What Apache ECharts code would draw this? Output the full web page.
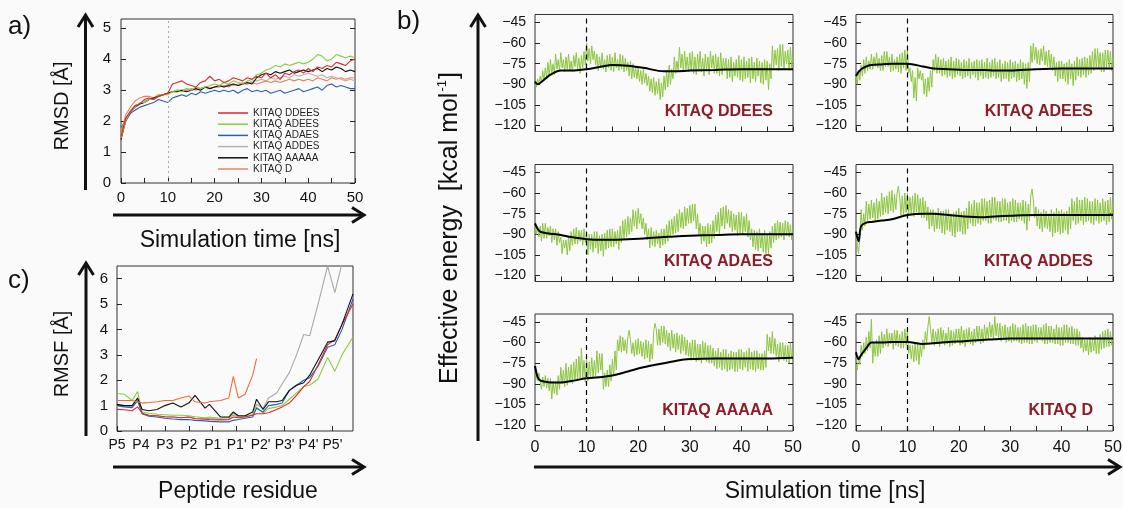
<!DOCTYPE html>
<html><head><meta charset="utf-8">
<script src="https://cdn.jsdelivr.net/npm/echarts@6/dist/echarts.min.js"></script>
<style>html,body{margin:0;padding:0;background:#fafafa}#c{width:1123px;height:508px}</style>
</head><body><div id="c"></div>
<script>
// ---------- Panel a: RMSD vs time ----------
const tA = [0,1,2,3,4,5,6,7,8,9,10,11,12,13,14,15,16,17,18,19,20,21,22,23,24,25,26,27,28,29,30,31,32,33,34,35,36,37,38,39,40,41,42,43,44,45,46,47,48,49,50];
const rmsdDDEES = [1.5,2.1,2.3,2.5,2.55,2.7,2.75,2.7,2.8,2.85,2.9,3.2,3.25,3.3,3.2,3.15,3.1,3.25,3.3,3.45,3.3,3.35,3.25,3.3,3.4,3.35,3.3,3.4,3.35,3.45,3.4,3.55,3.4,3.5,3.35,3.55,3.5,3.6,3.65,3.55,3.7,3.6,3.75,3.7,3.8,3.75,3.9,3.85,3.8,3.95,4.0];
const rmsdADEES = [1.45,2.0,2.3,2.45,2.6,2.6,2.7,2.7,2.8,2.85,2.85,2.95,3.0,2.95,3.05,3.0,3.1,3.05,3.1,3.15,3.2,3.15,3.25,3.2,3.3,3.25,3.2,3.3,3.35,3.5,3.55,3.65,3.7,3.8,3.75,3.85,3.8,3.85,3.9,3.85,3.9,4.0,4.15,4.1,3.95,4.0,4.15,4.1,4.05,4.1,4.05];
const rmsdADAES = [1.8,2.0,2.25,2.35,2.45,2.5,2.55,2.6,2.7,2.65,2.6,2.75,2.8,2.85,2.8,2.9,2.85,2.95,2.9,2.95,3.0,2.95,3.0,2.95,3.0,2.9,3.0,3.05,2.95,3.0,2.95,3.0,2.9,2.95,3.0,2.9,2.95,3.0,3.05,2.95,3.0,3.05,3.1,3.0,3.15,3.2,3.1,3.15,3.1,3.05,3.05];
const rmsdADDES = [1.5,2.1,2.35,2.5,2.55,2.65,2.7,2.75,2.8,2.85,2.9,2.95,3.0,3.0,3.05,3.0,3.1,3.05,3.1,3.05,3.1,3.15,3.1,3.2,3.15,3.2,3.25,3.2,3.3,3.3,3.35,3.3,3.4,3.35,3.4,3.45,3.4,3.5,3.45,3.5,3.55,3.5,3.45,3.5,3.4,3.45,3.4,3.35,3.3,3.35,3.3];
const rmsdAAAAA = [1.4,2.0,2.3,2.45,2.55,2.6,2.7,2.75,2.8,2.85,2.9,2.95,2.95,3.0,2.95,3.0,3.05,3.0,3.1,3.05,3.1,3.15,3.1,3.15,3.2,3.15,3.2,3.25,3.2,3.4,3.5,3.55,3.5,3.6,3.55,3.6,3.65,3.55,3.6,3.65,3.6,3.65,3.7,3.6,3.7,3.65,3.75,3.7,3.6,3.65,3.6];
const rmsdD = [1.6,2.2,2.45,2.65,2.75,2.8,2.8,2.75,2.85,2.85,2.9,2.95,3.0,2.95,3.0,3.05,3.0,3.05,3.1,3.05,3.1,3.1,3.15,3.1,3.2,3.15,3.2,3.2,3.25,3.2,3.25,3.3,3.25,3.3,3.25,3.3,3.35,3.3,3.35,3.3,3.35,3.3,3.4,3.35,3.3,3.4,3.35,3.4,3.35,3.4,3.4];
const rmsdTicksY = [0,1,2,3,4,5];
const rmsdTicksX = [0,10,20,30,40,50];
const minorTicksX = [0,5,10,15,20,25,30,35,40,45,50];

// ---------- Panel c: RMSF per residue ----------
const residues = ['P5','P4','P3','P2','P1',"P1'","P2'","P3'","P4'","P5'"];
const residueTicks = [0,1,2,3,4,5,6,7,8,9];
const resPos = [0,0.3,0.63,0.86,1.05,1.33,1.67,2.0,2.33,2.67,3.0,3.26,3.68,3.86,4.33,4.67,4.86,5.07,5.35,5.67,5.83,6.1,6.33,6.67,6.9,7.2,7.5,7.8,8.05,8.4,8.8,9.1,9.4,9.86];
const rmsfDDEES = [.85,.84,.80,.95,.70,.62,.60,.56,.55,.52,.55,.48,.46,.45,.44,.45,.55,.52,.55,.62,.68,.68,.72,.85,.95,1.1,1.4,1.75,1.95,2.6,3.4,3.6,4.2,5.0];
const rmsfADEES = [1.48,1.45,1.2,1.55,.75,.70,.66,.64,.62,.62,.60,.56,.52,.55,.50,.54,.62,.55,.58,.62,.95,.70,.88,.95,1.0,1.25,1.5,1.75,1.8,2.05,2.9,2.35,3.0,3.7];
const rmsfADAES = [1.0,.95,.92,1.2,.68,.58,.55,.50,.47,.45,.45,.42,.40,.38,.36,.36,.42,.45,.50,.55,.90,.75,1.0,1.05,1.1,1.6,1.8,2.0,2.1,2.55,3.3,3.4,4.0,5.2];
const rmsfADDES = [1.05,1.0,.98,1.25,.68,.62,.60,.55,.55,.52,.55,.50,.48,.50,.46,.48,.70,.55,.58,.65,1.05,.90,1.3,1.5,1.85,2.3,3.0,3.8,3.75,5.0,6.5,5.45,6.6,7.5];
const rmsfAAAAA = [1.05,1.0,1.0,1.3,.85,.80,.85,1.0,1.1,.95,1.1,1.4,.90,1.05,.55,.55,.75,.60,.60,.75,1.25,.85,1.15,1.15,1.2,1.6,1.8,1.9,2.2,2.8,3.5,3.55,4.2,5.4];
const rmsfD = [1.2,1.2,1.2,1.15,1.1,1.12,1.15,1.2,1.2,1.3,1.38,1.15,1.1,1.15,1.2,1.3,2.15,1.3,1.45,2.2,2.85,null,null,null,null,null,null,null,null,null,null,null,null,null];
const rmsfTicksY = [0,1,2,3,4,5,6];

// ---------- Panel b: effective energy (every 0.25 ns) ----------
const tB = [0,0.25,0.5,0.75,1,1.25,1.5,1.75,2,2.25,2.5,2.75,3,3.25,3.5,3.75,4,4.25,4.5,4.75,
 5,5.25,5.5,5.75,6,6.25,6.5,6.75,7,7.25,7.5,7.75,8,8.25,8.5,8.75,9,9.25,9.5,9.75,
 10,10.25,10.5,10.75,11,11.25,11.5,11.75,12,12.25,12.5,12.75,13,13.25,13.5,13.75,14,14.25,14.5,14.75,
 15,15.25,15.5,15.75,16,16.25,16.5,16.75,17,17.25,17.5,17.75,18,18.25,18.5,18.75,19,19.25,19.5,19.75,
 20,20.25,20.5,20.75,21,21.25,21.5,21.75,22,22.25,22.5,22.75,23,23.25,23.5,23.75,24,24.25,24.5,24.75,
 25,25.25,25.5,25.75,26,26.25,26.5,26.75,27,27.25,27.5,27.75,28,28.25,28.5,28.75,29,29.25,29.5,29.75,
 30,30.25,30.5,30.75,31,31.25,31.5,31.75,32,32.25,32.5,32.75,33,33.25,33.5,33.75,34,34.25,34.5,34.75,
 35,35.25,35.5,35.75,36,36.25,36.5,36.75,37,37.25,37.5,37.75,38,38.25,38.5,38.75,39,39.25,39.5,39.75,
 40,40.25,40.5,40.75,41,41.25,41.5,41.75,42,42.25,42.5,42.75,43,43.25,43.5,43.75,44,44.25,44.5,44.75,
 45,45.25,45.5,45.75,46,46.25,46.5,46.75,47,47.25,47.5,47.75,48,48.25,48.5,48.75,49,49.25,49.5,49.75,
 50];
const energyDDEES = [
 -88,-92,-86,-90, -84,-89,-80,-87, -78,-85,-74,-84, -72,-82,-75,-83, -68,-79,-72,-80,
 -67,-78,-72,-81, -70,-79,-68,-80, -73,-81,-69,-77, -67,-79,-71,-82, -69,-78,-66,-76,
 -60,-73,-64,-75, -62,-72,-66,-76, -68,-80,-70,-78, -67,-79,-72,-81, -69,-78,-68,-80,
 -70,-81,-67,-78, -72,-80,-68,-79, -69,-81,-71,-80, -74,-84,-73,-86, -75,-85,-77,-86,
 -78,-88,-80,-90, -79,-89,-82,-91, -84,-95,-86,-96, -85,-98,-88,-97, -86,-101,-89,-99,
 -84,-94,-80,-92, -76,-90,-79,-86, -70,-82,-73,-80, -63,-78,-68,-80, -66,-79,-70,-81,
 -67,-80,-66,-82, -70,-83,-68,-79, -66,-81,-71,-84, -68,-80,-70,-83, -66,-78,-69,-82,
 -68,-82,-70,-84, -67,-83,-71,-80, -71,-86,-72,-85, -70,-88,-74,-84, -72,-85,-69,-87,
 -72,-88,-70,-86, -73,-85,-71,-89, -70,-86,-74,-88, -71,-84,-73,-89, -74,-90,-72,-87,
 -73,-94,-75,-86, -62,-78,-65,-76, -64,-80,-61,-77, -61,-79,-66,-75, -65,-80,-63,-78,
 -70];
const energyADEES = [
 -84,-90,-80,-87, -76,-84,-72,-82, -70,-80,-73,-79, -68,-79,-70,-77, -67,-78,-71,-80,
 -69,-80,-66,-77, -66,-77,-70,-81, -68,-80,-72,-79, -70,-81,-68,-82, -67,-78,-65,-80,
 -65,-82,-78,-88, -80,-100,-85,-102, -78,-86,-80,-87, -82,-97,-86,-99, -85,-95,-80,-92,
 -72,-80,-68,-82, -70,-82,-72,-84, -71,-83,-73,-85, -72,-84,-70,-86, -73,-85,-71,-83,
 -72,-84,-74,-86, -72,-85,-73,-84, -71,-86,-74,-83, -73,-85,-72,-87, -73,-84,-72,-86,
 -74,-85,-71,-86, -74,-85,-72,-84, -71,-86,-74,-85, -72,-88,-75,-86, -73,-86,-74,-88,
 -72,-86,-74,-85, -73,-88,-75,-87, -72,-86,-74,-90, -75,-93,-74,-88, -62,-74,-60,-72,
 -63,-75,-65,-76, -64,-73,-62,-76, -66,-77,-65,-78, -68,-80,-70,-84, -74,-88,-73,-86,
 -73,-86,-75,-88, -74,-90,-72,-86, -75,-91,-73,-87, -70,-84,-72,-85, -71,-83,-70,-85,
 -71,-83,-69,-82, -66,-80,-64,-78, -64,-78,-67,-81, -67,-81,-65,-78, -65,-78,-66,-80,
 -70];
const energyADAES = [
 -82,-90,-84,-92, -84,-95,-82,-93, -82,-93,-85,-91, -84,-96,-86,-94, -86,-98,-88,-96,
 -92,-104,-94,-100, -94,-105,-92,-102, -88,-98,-86,-97, -85,-97,-87,-95, -87,-98,-86,-96,
 -89,-105,-90,-101, -90,-103,-88,-100, -88,-104,-91,-102, -90,-106,-89,-101, -87,-100,-86,-99,
 -86,-99,-88,-97, -87,-101,-84,-96, -80,-93,-79,-92, -77,-90,-78,-88, -72,-84,-73,-86,
 -71,-82,-75,-86, -78,-90,-82,-94, -86,-100,-85,-98, -88,-99,-87,-97, -89,-100,-86,-98,
 -86,-97,-83,-95, -80,-92,-79,-90, -77,-89,-75,-88, -72,-85,-74,-86, -70,-84,-71,-82,
 -69,-82,-68,-80, -68,-86,-75,-90, -82,-97,-84,-95, -84,-99,-82,-97, -83,-96,-80,-93,
 -76,-88,-74,-90, -71,-84,-70,-86, -69,-82,-72,-85, -73,-88,-75,-87, -76,-91,-74,-89,
 -74,-90,-77,-88, -75,-92,-80,-94, -86,-99,-87,-101, -88,-102,-86,-100, -89,-103,-87,-104,
 -90,-104,-88,-100, -84,-96,-82,-94, -80,-93,-81,-92, -82,-94,-80,-91, -81,-92,-83,-94,
 -86];
const energyADDES = [
 -86,-98,-104,-92, -72,-87,-75,-84, -66,-80,-68,-79, -65,-78,-67,-80, -64,-79,-66,-77,
 -60,-76,-63,-74, -62,-75,-59,-73, -58,-74,-61,-72, -60,-55,-63,-76, -62,-77,-60,-74,
 -60,-75,-63,-76, -62,-77,-60,-74, -61,-76,-64,-78, -63,-78,-66,-80, -70,-86,-72,-84,
 -72,-88,-74,-86, -71,-86,-73,-89, -73,-90,-72,-87, -72,-88,-75,-91, -74,-92,-73,-88,
 -71,-88,-74,-90, -73,-90,-71,-86, -66,-82,-68,-84, -65,-84,-67,-82, -67,-83,-64,-80,
 -64,-80,-66,-82, -65,-82,-63,-79, -63,-80,-66,-81, -66,-81,-64,-80, -64,-80,-67,-82,
 -66,-80,-64,-81, -65,-81,-67,-79, -67,-80,-65,-82, -66,-87,-68,-80, -62,-57,-65,-78,
 -70,-84,-72,-86, -74,-88,-72,-85, -73,-86,-75,-88, -72,-92,-74,-89, -71,-88,-73,-90,
 -72,-89,-74,-87, -73,-90,-70,-86, -64,-80,-66,-83, -63,-82,-65,-80, -65,-83,-63,-81,
 -64,-80,-66,-82, -66,-83,-64,-80, -65,-82,-67,-81, -64,-80,-66,-83, -65,-81,-63,-79,
 -68];
const energyAAAAA = [
 -77,-84,-88,-82, -82,-94,-85,-92, -84,-93,-86,-95, -86,-101,-88,-97, -88,-98,-84,-94,
 -78,-90,-80,-92, -75,-91,-78,-89, -76,-90,-74,-88, -72,-88,-70,-86, -64,-86,-73,-89,
 -72,-88,-74,-86, -71,-86,-73,-84, -66,-82,-68,-80, -68,-94,-82,-92, -80,-92,-76,-88,
 -72,-84,-66,-80, -58,-66,-55,-67, -56,-66,-58,-68, -56,-51,-58,-68, -60,-70,-58,-69,
 -57,-68,-59,-70, -60,-72,-58,-71, -59,-74,-61,-72, -52,-46,-50,-62, -50,-62,-48,-60,
 -48,-61,-51,-63, -53,-66,-51,-64, -54,-67,-53,-65, -55,-68,-54,-66, -56,-69,-58,-70,
 -60,-73,-58,-72, -58,-74,-61,-73, -61,-75,-59,-72, -60,-74,-62,-75, -62,-75,-64,-77,
 -66,-79,-64,-78, -67,-80,-65,-79, -65,-81,-68,-80, -66,-79,-67,-81, -67,-81,-65,-79,
 -65,-80,-67,-78, -66,-81,-64,-79, -67,-80,-66,-81, -66,-79,-68,-80, -68,-80,-66,-78,
 -54,-66,-56,-68, -52,-68,-57,-70, -61,-74,-60,-72, -60,-73,-62,-74, -62,-75,-60,-72,
 -66];
const energyD = [
 -77,-80,-70,-76, -62,-70,-60,-68, -56,-66,-52,-64, -43,-75,-60,-70, -58,-70,-55,-68,
 -52,-64,-54,-62, -50,-63,-53,-61, -53,-65,-51,-62, -51,-63,-54,-64, -52,-64,-50,-62,
 -50,-68,-62,-72, -62,-74,-60,-73, -60,-76,-62,-70, -58,-65,-52,-60, -48,-41,-50,-60,
 -50,-62,-52,-61, -50,-63,-49,-60, -51,-62,-53,-61, -49,-63,-51,-62, -52,-61,-50,-60,
 -50,-62,-48,-61, -51,-63,-50,-60, -49,-61,-52,-62, -50,-60,-48,-59, -48,-61,-50,-60,
 -47,-58,-49,-57, -45,-56,-47,-58, -41,-55,-46,-57, -46,-59,-48,-58, -47,-60,-49,-59,
 -48,-60,-46,-59, -47,-59,-49,-60, -49,-61,-47,-60, -46,-60,-48,-61, -48,-61,-47,-59,
 -47,-60,-49,-58, -49,-59,-47,-61, -46,-61,-48,-60, -48,-60,-50,-61, -47,-61,-49,-62,
 -49,-62,-47,-60, -47,-60,-49,-61, -48,-61,-50,-62, -50,-62,-52,-64, -56,-67,-58,-66,
 -58,-69,-56,-67, -57,-66,-55,-68, -56,-68,-54,-65, -52,-64,-51,-63, -50,-63,-52,-62,
 -55];
const tSmooth = [0,0.5,1,2,3,5,7,10,13,15,18,21,25,27,30,35,40,45,50];
const avgDDEES = [-88,-90,-89,-86,-83,-80,-80,-79,-77,-76,-76.5,-78,-80.5,-80.5,-80,-79.5,-79,-79,-79];
const avgADEES = [-84,-81,-79,-77,-76,-75.5,-75,-75,-77,-78.5,-79,-79.5,-79.5,-80,-80,-79,-78.5,-78.5,-78.5];
const avgADAES = [-82,-86,-88,-89,-89.5,-90.5,-92,-93.5,-94,-94,-93.5,-93,-92,-91.5,-91,-90.5,-90,-90,-90];
const avgADDES = [-88,-95,-84,-81.5,-81,-80,-79,-76,-75,-75,-76,-77,-77.5,-77,-76.5,-76,-76,-76,-76];
const avgAAAAA = [-77,-85,-87.5,-88.5,-89,-89,-88,-86,-85,-84,-81,-78,-75,-73.5,-72,-71.5,-71.5,-71.5,-71];
const avgD = [-67,-72,-69,-64,-60,-60,-59.5,-59.5,-61,-60.5,-59.5,-59,-58,-57.5,-57,-57,-57,-57,-57];
const energyTicksY = [-120,-105,-90,-75,-60,-45];
const bNames = ['KITAQ DDEES','KITAQ ADEES','KITAQ ADAES','KITAQ ADDES','KITAQ AAAAA','KITAQ D'];
const bGreen = [energyDDEES,energyADEES,energyADAES,energyADDES,energyAAAAA,energyD];
const bAvg = [avgDDEES,avgADEES,avgADAES,avgADDES,avgAAAAA,avgD];

// ---------- build chart ----------
const FF = '"Liberation Sans", Arial, "DejaVu Sans", sans-serif';
const TXT = '#111';
const pairs = (xs, ys) => xs.map((x, i) => [x, ys[i]]);
const tickStyle = {inside: true, length: 5, lineStyle: {color: '#222', width: 1}};

const grids = [], xAxes = [], yAxes = [], series = [];

function addGrid(g) { grids.push(Object.assign({show: true, borderColor: '#333', borderWidth: 1, backgroundColor: 'transparent', outerBoundsMode: 'none', containLabel: false}, g)); return grids.length - 1; }

// panel a
const ga = addGrid({left: 121, top: 19, width: 234, height: 164});
xAxes.push({gridIndex: ga, type: 'value', min: 0, max: 50, axisLine: {show: false}, splitLine: {show: false},
  axisTick: Object.assign({customValues: minorTicksX}, tickStyle),
  axisLabel: {customValues: rmsdTicksX, fontSize: 15, color: TXT, fontFamily: FF, margin: 7}});
yAxes.push({gridIndex: ga, type: 'value', min: 0, max: 5.3, axisLine: {show: false}, splitLine: {show: false},
  axisTick: Object.assign({customValues: rmsdTicksY}, tickStyle),
  axisLabel: {customValues: rmsdTicksY, fontSize: 15, color: TXT, fontFamily: FF, margin: 10}});
yAxes.push({gridIndex: ga, type: 'value', position: 'right', min: 0, max: 5.3, axisLine: {show: false}, splitLine: {show: false},
  axisTick: Object.assign({customValues: rmsdTicksY}, tickStyle), axisLabel: {show: false}});
const aX = xAxes.length - 1, aY = yAxes.length - 2;
const aSeries = [
  ['KITAQ ADDES', rmsdADDES, '#b4b4b4'],
  ['KITAQ ADAES', rmsdADAES, '#2e5fb5'],
  ['KITAQ D', rmsdD, '#f2805c'],
  ['KITAQ AAAAA', rmsdAAAAA, '#111111'],
  ['KITAQ ADEES', rmsdADEES, '#86cf3a'],
  ['KITAQ DDEES', rmsdDDEES, '#e3262b']
];
aSeries.forEach((s, i) => {
  const o = {type: 'line', name: s[0], xAxisIndex: aX, yAxisIndex: aY, data: pairs(tA, s[1]), symbol: 'none',
    lineStyle: {color: s[2], width: 1.1}, itemStyle: {color: s[2]}, animation: false, z: 2 + i};
  if (i === 0) o.markLine = {silent: true, symbol: ['none', 'none'], label: {show: false},
    lineStyle: {color: '#aaaaaa', type: [2, 3], width: 1}, data: [{xAxis: 10}], animation: false};
  series.push(o);
});

// panel c
const gc = addGrid({left: 117, top: 266, width: 236, height: 165});
xAxes.push({gridIndex: gc, type: 'value', min: 0, max: 9.86, axisLine: {show: false}, splitLine: {show: false},
  axisTick: Object.assign({customValues: residueTicks}, tickStyle),
  axisLabel: {customValues: residueTicks, formatter: v => residues[Math.round(v)], fontSize: 14, color: TXT, fontFamily: FF, margin: 7}});
yAxes.push({gridIndex: gc, type: 'value', min: 0, max: 6.5, axisLine: {show: false}, splitLine: {show: false},
  axisTick: Object.assign({customValues: rmsfTicksY}, tickStyle),
  axisLabel: {customValues: rmsfTicksY, fontSize: 15, color: TXT, fontFamily: FF, margin: 9}});
const cX = xAxes.length - 1, cY = yAxes.length - 1;
[
  ['c ADDES', rmsfADDES, '#a8a8a8'],
  ['c ADEES', rmsfADEES, '#86cf3a'],
  ['c ADAES', rmsfADAES, '#2e5fb5'],
  ['c DDEES', rmsfDDEES, '#e3262b'],
  ['c AAAAA', rmsfAAAAA, '#111111'],
  ['c D', rmsfD, '#f06a36']
].forEach((s, i) => {
  series.push({type: 'line', name: s[0], xAxisIndex: cX, yAxisIndex: cY, data: pairs(resPos, s[1]), symbol: 'none',
    connectNulls: false, lineStyle: {color: s[2], width: 1.1}, animation: false, z: 2 + i});
});

// panel b
const colLeft = [535, 856], colW = [258, 257], rowTop = [14.5, 164.5, 314];
const bLabels = [];
for (let k = 0; k < 6; k++) {
  const col = k % 2, row = Math.floor(k / 2);
  const g = addGrid({left: colLeft[col], top: rowTop[row], width: colW[col], height: 117});
  xAxes.push({gridIndex: g, type: 'value', min: 0, max: 50, axisLine: {show: false}, splitLine: {show: false},
    axisTick: Object.assign({customValues: minorTicksX}, tickStyle),
    axisLabel: row === 2 ? {customValues: rmsdTicksX, fontSize: 16, color: TXT, fontFamily: FF, margin: 9} : {show: false}});
  yAxes.push({gridIndex: g, type: 'value', min: -124.3, max: -39.2, axisLine: {show: false}, splitLine: {show: false},
    axisTick: Object.assign({customValues: energyTicksY}, tickStyle),
    axisLabel: {customValues: energyTicksY, formatter: v => String(v).replace('-', '\u2212'), fontSize: 14, color: TXT, fontFamily: FF, margin: 9}});
  yAxes.push({gridIndex: g, type: 'value', position: 'right', min: -124.3, max: -39.2, axisLine: {show: false}, splitLine: {show: false},
    axisTick: Object.assign({customValues: energyTicksY}, tickStyle), axisLabel: {show: false}});
  const xi = xAxes.length - 1, yi = yAxes.length - 2;
  series.push({type: 'line', name: bNames[k] + ' raw', xAxisIndex: xi, yAxisIndex: yi, data: pairs(tB, bGreen[k]), symbol: 'none',
    lineStyle: {color: '#8cc63f', width: 1}, animation: false, z: 2});
  series.push({type: 'line', name: bNames[k] + ' avg', xAxisIndex: xi, yAxisIndex: yi, data: pairs(tSmooth, bAvg[k]), symbol: 'none', smooth: 0.35,
    lineStyle: {color: '#000', width: 2}, animation: false, z: 3,
    markLine: {silent: true, symbol: ['none', 'none'], label: {show: false}, lineStyle: {color: '#000', type: [5, 4], width: 1.2},
      data: [{xAxis: 10}], animation: false}});
  bLabels.push({type: 'text', x: colLeft[col] + colW[col] - 20, y: rowTop[row] + 97,
    style: {text: bNames[k], font: 'bold 16px ' + FF, fill: '#8c1c26', align: 'right', verticalAlign: 'middle'}});
}

function arrowUp(x, y1, y2) {
  return [
    {type: 'line', shape: {x1: x, y1: y1, x2: x, y2: y2 + 1}, style: {stroke: '#111', lineWidth: 3}},
    {type: 'polyline', shape: {points: [[x - 7.5, y2 + 12], [x, y2], [x + 7.5, y2 + 12]]}, style: {stroke: '#111', lineWidth: 3, fill: null}}
  ];
}
function arrowRight(y, x1, x2) {
  return [
    {type: 'line', shape: {x1: x1, y1: y, x2: x2 - 1, y2: y}, style: {stroke: '#111', lineWidth: 3}},
    {type: 'polyline', shape: {points: [[x2 - 12, y - 7.5], [x2, y], [x2 - 12, y + 7.5]]}, style: {stroke: '#111', lineWidth: 3, fill: null}}
  ];
}
function label(text, x, y, size, rot) {
  return {type: 'text', x: x, y: y, rotation: rot ? Math.PI / 2 : 0,
    style: {text: text, font: size + 'px ' + FF, fill: TXT, align: 'center', verticalAlign: 'middle'}};
}

const graphics = [].concat(
  arrowUp(85.5, 190, 15), arrowRight(215, 113, 364),
  arrowUp(86, 436, 263), arrowRight(467, 113, 364),
  arrowUp(478, 441, 15), arrowRight(467, 534, 1120),
  [
    {type: 'text', x: 8, y: 27, style: {text: 'a)', font: '26px ' + FF, fill: TXT, verticalAlign: 'middle'}},
    {type: 'text', x: 8, y: 281, style: {text: 'c)', font: '26px ' + FF, fill: TXT, verticalAlign: 'middle'}},
    {type: 'text', x: 397, y: 22, style: {text: 'b)', font: '26px ' + FF, fill: TXT, verticalAlign: 'middle'}},
    label('RMSD [\u00c5]', 62, 106, 20, true),
    label('RMSF [\u00c5]', 62, 354, 20, true),
    label('Simulation time [ns]', 240, 241, 23, false),
    label('Peptide residue', 238, 492, 23, false),
    {type: 'text', x: 450, y: 228, rotation: Math.PI / 2,
      style: {text: '{n|Effective energy  [kcal mol}{s|-1}{n|]}', align: 'center', verticalAlign: 'middle', fill: TXT,
        rich: {n: {fontSize: 25, fontFamily: FF, fill: TXT, lineHeight: 28},
               s: {fontSize: 13, fontFamily: FF, fill: TXT, verticalAlign: 'top', lineHeight: 28, padding: [0, 1, 0, 1]}}}},
    label('Simulation time [ns]', 825, 492, 23, false)
  ],
  bLabels
);

const option = {
  backgroundColor: '#fafafa',
  animation: false,
  textStyle: {fontFamily: FF},
  grid: grids, xAxis: xAxes, yAxis: yAxes, series: series,
  legend: {data: ['KITAQ DDEES','KITAQ ADEES','KITAQ ADAES','KITAQ ADDES','KITAQ AAAAA','KITAQ D'],
    orient: 'vertical', left: 218, top: 108, padding: 0, icon: 'rect', itemWidth: 30, itemHeight: 1.5, itemGap: 1.2,
    selectedMode: false, textStyle: {fontSize: 10, lineHeight: 10, color: '#222', fontFamily: FF}},
  graphic: graphics
};
const chart = echarts.init(document.getElementById('c'), null, {renderer: 'canvas'});
chart.setOption(option);
</script></body></html>
